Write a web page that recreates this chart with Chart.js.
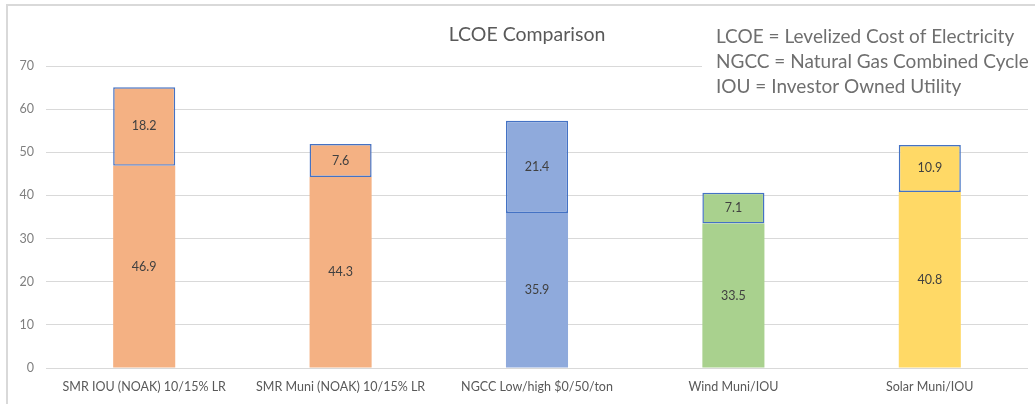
<!DOCTYPE html>
<html>
<head>
<meta charset="utf-8">
<script src="https://cdn.jsdelivr.net/npm/chart.js@4/dist/chart.umd.min.js"></script>
<style>
  html, body { margin: 0; padding: 0; background: #fff; }
  #wrap { width: 1035px; height: 404px; position: relative; }
</style>
</head>
<body>
<div id="wrap"><canvas id="c" width="1035" height="404"></canvas></div>
<script>
// Categories and stacked LCOE components
const categories = [
  'SMR IOU (NOAK) 10/15% LR',
  'SMR Muni (NOAK) 10/15% LR',
  'NGCC Low/high $0/50/ton',
  'Wind Muni/IOU',
  'Solar Muni/IOU'
];
const baseValues = [46.9, 44.3, 35.9, 33.5, 40.8];
const rangeValues = [18.2, 7.6, 21.4, 7.1, 10.9];
const barColors = ['#F4B183', '#F4B183', '#8FAADC', '#A9D18E', '#FFD966'];
const yTicks = [0, 10, 20, 30, 40, 50, 60, 70];
const titleText = 'LCOE Comparison';
const noteLines = [
  'LCOE = Levelized Cost of Electricity',
  'NGCC = Natural Gas Combined Cycle',
  'IOU = Investor Owned Utility'
];

const FONT = 'Lato, "Open Sans", sans-serif';

// Frame, title, note box and segment labels
const decor = {
  id: 'decor',
  beforeDraw(chart) {
    const ctx = chart.ctx;
    ctx.save();
    ctx.fillStyle = '#ffffff';
    ctx.fillRect(0, 0, chart.width, chart.height);
    ctx.strokeStyle = '#d9d9d9';
    ctx.lineWidth = 2;
    ctx.strokeRect(7, 5, 1100, 500);
    ctx.restore();
  },
  afterDatasetsDraw(chart) {
    const ctx = chart.ctx;
    ctx.save();
    // segment value labels
    ctx.font = '12.5px ' + FONT;
    ctx.fillStyle = '#404040';
    ctx.textAlign = 'center';
    ctx.textBaseline = 'middle';
    chart.data.datasets.forEach((ds, di) => {
      const meta = chart.getDatasetMeta(di);
      meta.data.forEach((bar, i) => {
        const y = (bar.y + bar.base) / 2;
        ctx.fillText(ds.data[i].toFixed(1), bar.x, y);
      });
    });
    // title
    ctx.font = '19.5px ' + FONT;
    ctx.fillStyle = '#595959';
    ctx.fillText(titleText, 527, 35);
    // note box
    ctx.fillStyle = '#ffffff';
    ctx.fillRect(702, 20, 333, 82);
    ctx.font = '19px ' + FONT;
    ctx.fillStyle = '#6f6f6f';
    ctx.textAlign = 'left';
    noteLines.forEach((t, k) => ctx.fillText(t, 716, 37 + k * 25));
    ctx.restore();
  }
};

new Chart(document.getElementById('c'), {
  type: 'bar',
  data: {
    labels: categories,
    datasets: [
      {
        label: 'Base',
        data: baseValues,
        backgroundColor: barColors,
        borderWidth: 0,
        categoryPercentage: 1,
        barPercentage: 0.316
      },
      {
        label: 'Range',
        data: rangeValues,
        backgroundColor: barColors,
        borderColor: '#4472C4',
        borderWidth: 1.5,
        borderSkipped: false,
        categoryPercentage: 1,
        barPercentage: 0.316
      }
    ]
  },
  options: {
    responsive: false,
    animation: false,
    devicePixelRatio: 1,
    layout: { padding: { left: 0, right: 7, top: 66, bottom: 0 } },
    plugins: {
      legend: { display: false },
      title: { display: false },
      tooltip: { enabled: false }
    },
    scales: {
      x: {
        stacked: true,
        grid: { display: false, drawTicks: false },
        border: { display: false },
        ticks: {
          color: '#595959',
          font: { family: FONT, size: 12.5 },
          padding: 11,
          maxRotation: 0,
          autoSkip: false
        },
        afterFit(scale) { scale.height = 36; }
      },
      y: {
        stacked: true,
        min: 0,
        max: 70,
        afterBuildTicks(scale) { scale.ticks = yTicks.map(v => ({ value: v })); },
        grid: { color: '#d9d9d9', lineWidth: 1, drawTicks: false },
        border: { display: false },
        ticks: {
          color: '#7f7f7f',
          font: { family: FONT, size: 12.5 },
          padding: 12
        },
        afterFit(scale) { scale.width = 46; }
      }
    }
  },
  plugins: [decor]
});
</script>
</body>
</html>
